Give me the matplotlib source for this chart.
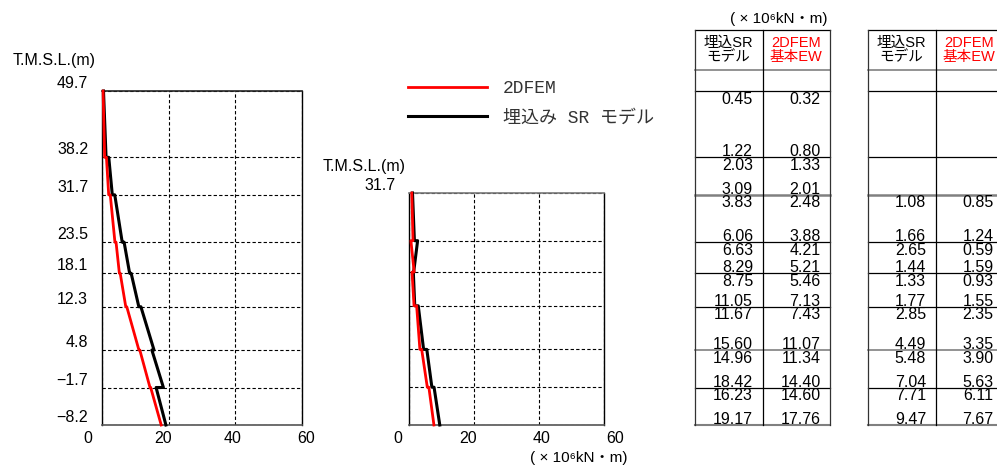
import matplotlib
matplotlib.use('Agg')
import matplotlib.pyplot as plt
from matplotlib.transforms import ScaledTranslation

plt.rcParams['font.family'] = ['Liberation Sans', 'Noto Sans CJK JP', 'DejaVu Sans']

# elevations T.M.S.L. (m)
levels = [49.7, 38.2, 31.7, 23.5, 18.1, 12.3, 4.8, -1.7, -8.2]
level_labels = ['49.7', '38.2', '31.7', '23.5', '18.1', '12.3', '4.8', '\u22121.7', '\u22128.2']

# left chart / left table (x10^6 kN.m), top and bottom of each segment
sr_top = [0.45, 2.03, 3.83, 6.63, 8.75, 11.67, 14.96, 16.23]
sr_bot = [1.22, 3.09, 6.06, 8.29, 11.05, 15.60, 18.42, 19.17]
fem_top = [0.32, 1.33, 2.48, 4.21, 5.46, 7.43, 11.34, 14.60]
fem_bot = [0.80, 2.01, 3.88, 5.21, 7.13, 11.07, 14.40, 17.76]

# right chart / right table (from 31.7 down)
sr2_top = [1.08, 2.65, 1.33, 2.85, 5.48, 7.71]
sr2_bot = [1.66, 1.44, 1.77, 4.49, 7.04, 9.47]
fem2_top = [0.85, 0.59, 0.93, 2.35, 3.90, 6.11]
fem2_bot = [1.24, 1.59, 1.55, 3.35, 5.63, 7.67]

xticks = [0, 20, 40, 60]
unit = '( \u00d7 10\u2076kN\u30fbm)'

W, H = 997, 470
fig = plt.figure(figsize=(W / 100, H / 100), dpi=100)


def box(x0, y0, x1, y1):
    return [x0 / W, 1 - y1 / H, (x1 - x0) / W, (y1 - y0) / H]


def ftext(x, y, s, **kw):
    fig.text(x / W, 1 - y / H, s, **kw)


def profile(top, bot, lv):
    xs, ys = [], []
    for i in range(len(top)):
        xs += [top[i], bot[i]]
        ys += [lv[i], lv[i + 1]]
    return xs, ys


def draw_plot(ax, lv, labels, s_t, s_b, f_t, f_b, xoffs, topcol):
    x, y = profile(s_t, s_b, lv)
    hb, = ax.plot(x, y, color='black', lw=2.2, zorder=3, clip_on=False)
    x, y = profile(f_t, f_b, lv)
    hr, = ax.plot(x, y, color='#ff0000', lw=2.0, zorder=4, clip_on=False)
    ax.set_xlim(0, 60)
    ax.set_ylim(lv[-1], lv[0])
    ax.set_xticks(xticks)
    ax.set_yticks(lv)
    ax.set_yticklabels(labels)
    ax.set_axisbelow(True)
    ax.grid(True, color='black', lw=0.8, ls=(0, (3, 2)))
    ax.tick_params(length=0, labelsize=11.5)
    ax.tick_params(axis='y', pad=10)
    ax.tick_params(axis='x', pad=4)
    for s in ['left', 'right']:
        ax.spines[s].set_color('black')
        ax.spines[s].set_linewidth(1.0)
    ax.spines['top'].set_color(topcol)
    ax.spines['top'].set_linewidth(1.2)
    ax.spines['bottom'].set_color('#555555')
    ax.spines['bottom'].set_linewidth(1.2)
    for lbl in ax.get_yticklabels():
        lbl.set_transform(lbl.get_transform() + ScaledTranslation(0, 0.09, fig.dpi_scale_trans))
    for lbl, dx in zip(ax.get_xticklabels(), xoffs):
        lbl.set_transform(lbl.get_transform() + ScaledTranslation(dx / 100, 0, fig.dpi_scale_trans))
    return hr, hb


ax1 = fig.add_axes(box(102, 91, 302, 425))
hr, hb = draw_plot(ax1, levels, level_labels, sr_top, sr_bot, fem_top, fem_bot,
                   [-14, -6, -3, 4], '#222222')

lv2 = levels[2:]
lab2 = [level_labels[2]] + [''] * (len(lv2) - 1)
ax2 = fig.add_axes(box(409, 193, 604, 425))
draw_plot(ax2, lv2, lab2, sr2_top, sr2_bot, fem2_top, fem2_bot, [-11, -6, 3, 11], '#777777')

ftext(13, 61, 'T.M.S.L.(m)', fontsize=11.5, va='center', ha='left')
ftext(323, 166, 'T.M.S.L.(m)', fontsize=11.5, va='center', ha='left')
ftext(627, 458, unit, fontsize=11, va='center', ha='right')
ftext(828, 19, unit, fontsize=11, va='center', ha='right')

fig.legend([hr, hb], ['2DFEM', '埋込み SR モデル'], loc='upper left',
           bbox_to_anchor=(408 / W, 1 - 80 / H), frameon=False,
           prop={'family': ['Liberation Mono', 'Noto Sans CJK JP'], 'size': 13},
           labelcolor='#333333', handlelength=4.4, handletextpad=0.85,
           labelspacing=0.68, borderpad=0, borderaxespad=0)

# tables share the elevation scale of the left chart
scale = (425 - 91) / (levels[0] - levels[-1])
top_elev = levels[0] + (91 - 30) / scale
hdr_elev = levels[0] + (91 - 70) / scale
head_elev = levels[0] + (91 - 50) / scale
row_lines = [top_elev, hdr_elev] + levels
row_styles = [('black', 0.9), ('#808080', 1.2), ('black', 0.9), ('black', 0.9),
              ('#808080', 1.8), ('black', 0.9), ('black', 0.9), ('black', 0.9),
              ('#808080', 1.2), ('black', 0.9), ('#808080', 1.5)]


def draw_table(ax, first, s_t, s_b, f_t, f_b):
    ax.set_xlim(0, 2)
    ax.set_ylim(levels[-1], top_elev)
    ax.axis('off')
    for yv, (c, w) in zip(row_lines, row_styles):
        ax.plot([0, 2], [yv, yv], color=c, lw=w, clip_on=False)
    for xv, c in zip([0, 1, 2], ['#333333', 'black', '#333333']):
        ax.plot([xv, xv], [top_elev, levels[-1]], color=c, lw=0.9, clip_on=False)
    ax.text(0.5, head_elev, '埋込SR\nモデル', ha='center', va='center', fontsize=10.5, linespacing=1.0)
    ax.text(1.5, head_elev, '2DFEM\n基本EW', ha='center', va='center', fontsize=10.5,
            linespacing=1.0, color='#ff0000')
    for k in range(len(s_t)):
        i = first + k
        yt = levels[i] - 0.1
        yb = levels[i + 1] + 1 / scale
        for col, vt, vb in [(0.86, s_t[k], s_b[k]), (1.86, f_t[k], f_b[k])]:
            ax.text(col, yt, f'{vt:.2f}', ha='right', va='top', fontsize=11.5)
            ax.text(col, yb, f'{vb:.2f}', ha='right', va='baseline', fontsize=11.5)


axt1 = fig.add_axes(box(695, 30, 830, 425))
draw_table(axt1, 0, sr_top, sr_bot, fem_top, fem_bot)
axt2 = fig.add_axes(box(868, 30, 1003, 425))
draw_table(axt2, 2, sr2_top, sr2_bot, fem2_top, fem2_bot)

fig.savefig('out.png', dpi=100)
